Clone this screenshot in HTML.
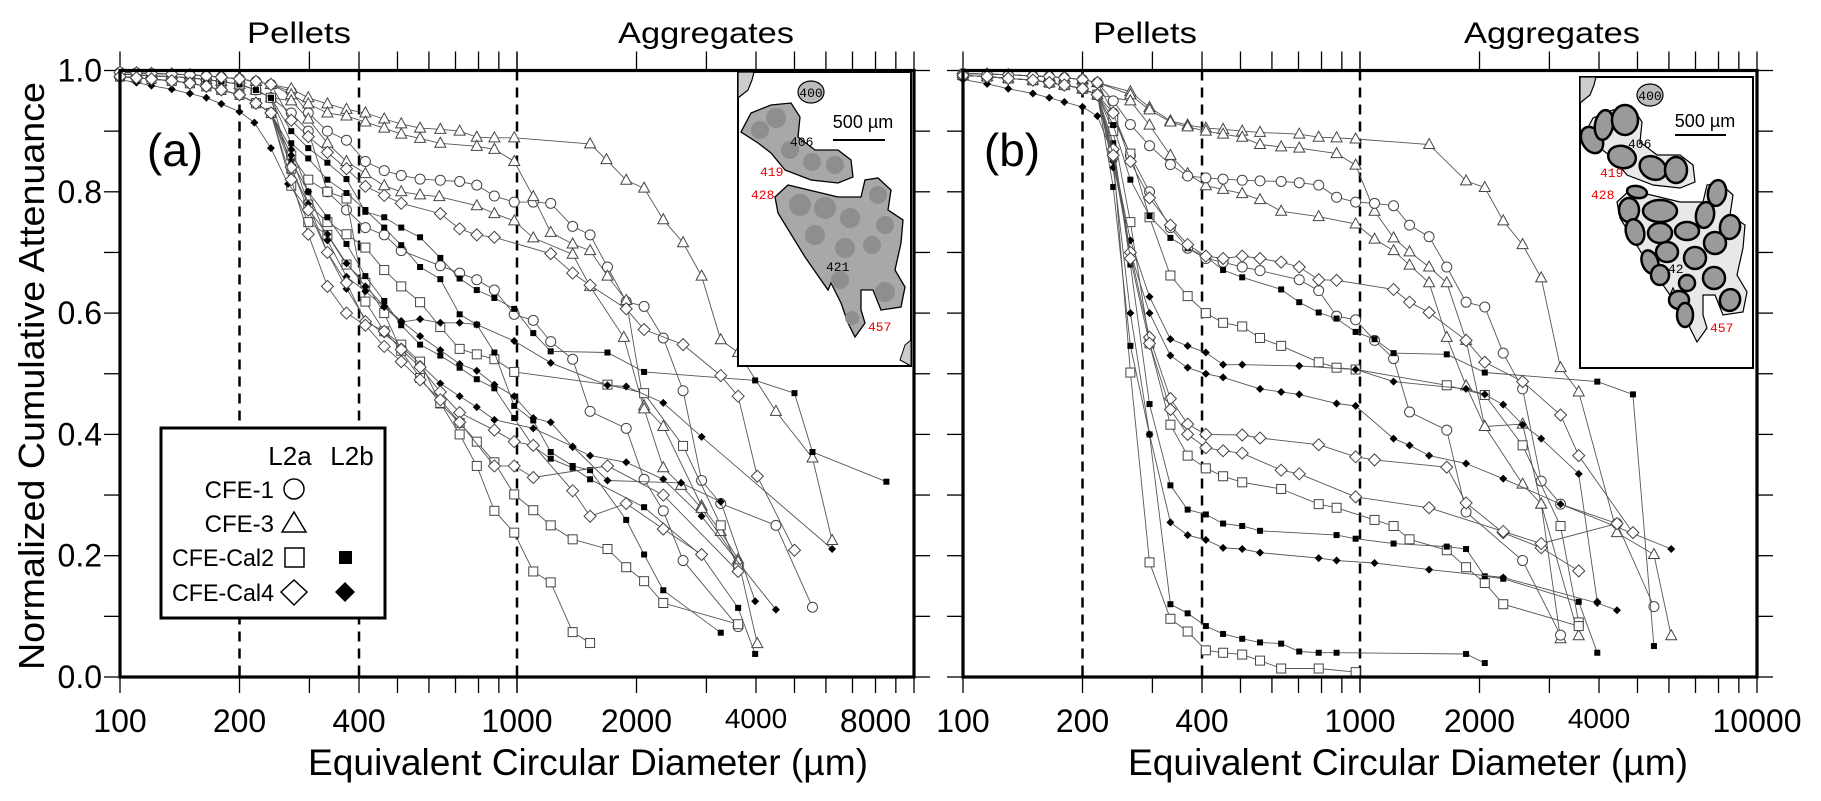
<!DOCTYPE html>
<html><head><meta charset="utf-8"><style>
html,body{margin:0;padding:0;background:#fff;}
svg{display:block;font-family:"Liberation Sans",sans-serif;}
</style></head><body>
<svg id="chart" width="1821" height="801" viewBox="0 0 1821 801" xmlns="http://www.w3.org/2000/svg">
<rect x="0" y="0" width="1821" height="801" fill="#fff"/>
<g id="gridA"></g>
<g id="gridB"></g>

<text x="0" y="0" transform="translate(44,376) rotate(-90)" text-anchor="middle" font-size="36" textLength="588" lengthAdjust="spacingAndGlyphs">Normalized Cumulative Attenuance</text>
<text x="588" y="775" text-anchor="middle" font-size="37" textLength="560" lengthAdjust="spacingAndGlyphs">Equivalent Circular Diameter (µm)</text>
<text x="1408" y="775" text-anchor="middle" font-size="37" textLength="560" lengthAdjust="spacingAndGlyphs">Equivalent Circular Diameter (µm)</text>
<text x="299" y="43" text-anchor="middle" font-size="30" textLength="104" lengthAdjust="spacingAndGlyphs">Pellets</text>
<text x="706" y="43" text-anchor="middle" font-size="30" textLength="176" lengthAdjust="spacingAndGlyphs">Aggregates</text>
<text x="1145" y="43" text-anchor="middle" font-size="30" textLength="104" lengthAdjust="spacingAndGlyphs">Pellets</text>
<text x="1552" y="43" text-anchor="middle" font-size="30" textLength="176" lengthAdjust="spacingAndGlyphs">Aggregates</text>
<text x="175" y="166" text-anchor="middle" font-size="46">(a)</text>
<text x="1012" y="166" text-anchor="middle" font-size="46">(b)</text>

<!-- inset a -->
<g>
<rect x="738" y="72" width="173" height="294" fill="#fff" stroke="#000" stroke-width="2"/>
<path d="M738,98 L748,90 L752,80 L754,72 L738,72Z" fill="#ccc" stroke="#000" stroke-width="1.2"/>
<ellipse cx="811" cy="92" rx="13" ry="11" fill="#bbb" stroke="#000" stroke-width="1.2"/>
<polygon points="741,132 751,113 771,105 791,103 800,117 798,137 815,150 838,150 851,160 853,177 838,183 811,180 785,170 771,153 758,143" fill="#a8a8a8" stroke="#000" stroke-width="1.3"/>
<polygon points="775,197 788,185 838,197 861,197 865,180 878,178 891,190 888,210 903,220 901,243 895,270 905,287 901,307 881,310 873,290 861,290 861,310 865,323 855,337 848,323 841,303 831,283 828,290 805,257 778,213" fill="#a8a8a8" stroke="#000" stroke-width="1.3"/>
<g fill="#8e8e8e"><circle cx="776" cy="118" r="10"/><circle cx="760" cy="130" r="9"/><circle cx="790" cy="150" r="9"/><circle cx="812" cy="162" r="9"/><circle cx="835" cy="165" r="9"/><circle cx="800" cy="205" r="11"/><circle cx="825" cy="208" r="11"/><circle cx="850" cy="218" r="10"/><circle cx="878" cy="195" r="9"/><circle cx="885" cy="225" r="9"/><circle cx="815" cy="235" r="10"/><circle cx="845" cy="248" r="10"/><circle cx="872" cy="245" r="9"/><circle cx="840" cy="280" r="9"/><circle cx="885" cy="292" r="10"/><circle cx="852" cy="318" r="7"/></g>
<path d="M900,360 L905,345 L911,340 L911,366 Z" fill="#ccc" stroke="#000"/>
<text x="811" y="97" text-anchor="middle" font-size="13" font-family="Liberation Mono">400</text>
<text x="863" y="128" text-anchor="middle" font-size="18">500 µm</text>
<line x1="833" y1="140" x2="885" y2="140" stroke="#000" stroke-width="2"/>
<text x="790" y="146" font-size="13" font-family="Liberation Mono">406</text>
<text x="760" y="176" font-size="13" font-family="Liberation Mono" fill="#e00">419</text>
<text x="751" y="199" font-size="13" font-family="Liberation Mono" fill="#e00">428</text>
<text x="826" y="271" font-size="13" font-family="Liberation Mono">421</text>
<text x="868" y="331" font-size="13" font-family="Liberation Mono" fill="#e00">457</text>
</g>

<!-- inset b -->
<g>
<rect x="1580" y="77" width="173" height="291" fill="#fff" stroke="#000" stroke-width="2"/>
<path d="M1580,103 L1590,95 L1594,85 L1596,77 L1580,77Z" fill="#ccc" stroke="#000" stroke-width="1.2"/>
<ellipse cx="1650" cy="95" rx="13" ry="11" fill="#bbb" stroke="#000" stroke-width="1.2"/>
<polygon points="1583,137 1593,118 1613,110 1633,108 1642,122 1640,142 1657,155 1680,155 1693,165 1695,182 1680,188 1653,185 1627,175 1613,158 1600,148" fill="#e8e8e8" stroke="#000" stroke-width="1.2"/>
<polygon points="1617,202 1630,190 1680,202 1703,202 1707,185 1720,183 1733,195 1730,215 1745,225 1743,248 1737,275 1747,292 1743,312 1723,315 1715,295 1703,295 1703,315 1707,328 1697,342 1690,328 1683,308 1673,288 1670,295 1647,262 1620,218" fill="#e8e8e8" stroke="#000" stroke-width="1.2"/>
<g id="ellB" fill="#9a9a9a" stroke="#000" stroke-width="2.5"></g>
<text x="1650" y="100" text-anchor="middle" font-size="13" font-family="Liberation Mono">400</text>
<text x="1705" y="127" text-anchor="middle" font-size="18">500 µm</text>
<line x1="1675" y1="135" x2="1726" y2="135" stroke="#000" stroke-width="2"/>
<text x="1628" y="148" font-size="13" font-family="Liberation Mono">406</text>
<text x="1600" y="177" font-size="13" font-family="Liberation Mono" fill="#e00">419</text>
<text x="1591" y="199" font-size="13" font-family="Liberation Mono" fill="#e00">428</text>
<text x="1668" y="273" font-size="13" font-family="Liberation Mono">42</text>
<text x="1710" y="332" font-size="13" font-family="Liberation Mono" fill="#e00">457</text>
</g>

<!-- legend -->
<g>
<rect x="161" y="428" width="224" height="190" fill="#fff" stroke="#000" stroke-width="3"/>
<text x="290" y="465" text-anchor="middle" font-size="26">L2a</text>
<text x="352" y="465" text-anchor="middle" font-size="26">L2b</text>
<text x="274" y="498" text-anchor="end" font-size="24">CFE-1</text>
<text x="274" y="532" text-anchor="end" font-size="24">CFE-3</text>
<text x="274" y="566" text-anchor="end" font-size="24" textLength="102" lengthAdjust="spacingAndGlyphs">CFE-Cal2</text>
<text x="274" y="601" text-anchor="end" font-size="24" textLength="102" lengthAdjust="spacingAndGlyphs">CFE-Cal4</text>
<circle cx="294" cy="489" r="10" fill="none" stroke="#000" stroke-width="1.5"/>
<polygon points="294,512 306,532 282,532" fill="none" stroke="#000" stroke-width="1.5"/>
<rect x="285" y="548" width="19" height="19" fill="none" stroke="#000" stroke-width="1.5"/>
<polygon points="294,580 307,592 294,605 281,592" fill="none" stroke="#000" stroke-width="1.5"/>
<rect x="339" y="551" width="13" height="13" fill="#000"/>
<polygon points="345,582 355,592 345,602 335,592" fill="#000"/>
</g>

<script>
// ---------- shared early-part data (diameter µm, normalized attenuance) ----------
const earlyHi = [[100,0.997],[110,0.996],[120,0.995],[135,0.994],[150,0.993],[165,0.991],[180,0.989],[200,0.986],[220,0.982],[240,0.977]];
const earlyMid = [[100,0.994],[110,0.993],[120,0.991],[135,0.99],[150,0.988],[165,0.985],[180,0.982],[200,0.977],[220,0.968],[240,0.955]];
const earlyLo = [[100,0.99],[110,0.988],[120,0.986],[135,0.983],[150,0.979],[165,0.974],[180,0.968],[200,0.96],[220,0.946],[240,0.93]];
const earlyDia = [[100,0.985],[110,0.98],[120,0.975],[135,0.969],[150,0.962],[165,0.955],[180,0.945],[200,0.932],[218,0.914]];

// ---------- panel (a) series ----------
const aC1 = [[270,0.965],[298,0.93],[333,0.9],[372,0.885],[415,0.85],[463,0.835],[511,0.827],[570,0.821],[641,0.819],[717,0.817],[792,0.811],[877,0.793],[984,0.783],[1099,0.783],[1216,0.781],[1381,0.743],[1528,0.729],[1690,0.676],[1884,0.619],[2090,0.611],[2336,0.559],[2620,0.472],[2917,0.324],[3260,0.286],[4490,0.25],[5550,0.115]];
const aC2 = [[270,0.93],[298,0.9],[333,0.8],[372,0.77],[415,0.741],[463,0.729],[511,0.703],[641,0.678],[717,0.666],[792,0.655],[877,0.638],[984,0.598],[1099,0.588],[1216,0.553],[1381,0.524],[1528,0.438],[1884,0.41],[2090,0.326],[2336,0.274],[2620,0.192],[3606,0.083]];
const aT1 = [[270,0.97],[298,0.955],[333,0.945],[372,0.936],[415,0.93],[463,0.92],[511,0.912],[570,0.905],[641,0.903],[717,0.9],[792,0.89],[877,0.889],[984,0.889],[1528,0.879],[1680,0.853],[1884,0.819],[2090,0.806],[2336,0.754],[2620,0.716],[2917,0.661],[3260,0.556],[3606,0.535],[4490,0.438],[5550,0.361],[6220,0.225]];
const aT2 = [[270,0.96],[298,0.945],[333,0.93],[372,0.925],[415,0.915],[463,0.905],[511,0.895],[570,0.888],[641,0.88],[792,0.875],[877,0.87],[984,0.85],[1099,0.792],[1216,0.733],[1381,0.714],[1528,0.703],[1690,0.661],[1884,0.621],[2090,0.447],[2336,0.413],[2917,0.282],[3260,0.24],[3606,0.194],[4030,0.055]];
const aT3 = [[270,0.95],[298,0.92],[333,0.88],[372,0.85],[415,0.83],[463,0.81],[511,0.8],[570,0.795],[637,0.792],[792,0.777],[877,0.764],[984,0.752],[1099,0.724],[1381,0.697],[1528,0.644],[1858,0.56],[2090,0.442],[2336,0.345],[2590,0.316],[2917,0.278],[3606,0.19]];
const aS1 = [[270,0.838],[298,0.779],[333,0.75],[372,0.73],[415,0.708],[463,0.671],[511,0.644],[570,0.618],[641,0.577],[717,0.541],[792,0.532],[877,0.524],[984,0.503],[1690,0.482],[2090,0.468],[2620,0.381],[3260,0.25],[3606,0.179]];
const aS2 = [[270,0.86],[298,0.82],[333,0.8],[372,0.789],[415,0.619],[463,0.57],[511,0.548],[570,0.52],[641,0.451],[717,0.419],[792,0.388],[877,0.354],[984,0.301],[1099,0.275],[1216,0.25],[1381,0.227],[1690,0.211],[1884,0.181],[2090,0.158],[2336,0.122],[3606,0.087]];
const aS3 = [[270,0.81],[298,0.75],[333,0.729],[372,0.68],[415,0.65],[463,0.6],[511,0.538],[570,0.493],[641,0.452],[717,0.4],[792,0.348],[877,0.274],[984,0.238],[1099,0.174],[1216,0.156],[1381,0.074],[1528,0.056]];
const aF1 = [[270,0.9],[298,0.872],[333,0.848],[372,0.821],[415,0.767],[463,0.758],[511,0.741],[570,0.725],[641,0.691],[717,0.657],[792,0.638],[877,0.625],[984,0.607],[1099,0.567],[1216,0.537],[1690,0.535],[2090,0.503],[3980,0.489],[5000,0.468],[5550,0.371],[8520,0.322]];
const aF2 = [[270,0.88],[298,0.855],[333,0.82],[372,0.798],[415,0.77],[463,0.741],[511,0.712],[570,0.676],[641,0.656],[717,0.598],[792,0.581],[877,0.535],[984,0.447],[1099,0.423],[1216,0.371],[1381,0.348],[1528,0.341],[1884,0.259],[2090,0.202],[2336,0.143],[3260,0.073]];
const aF3 = [[270,0.85],[298,0.8],[333,0.758],[372,0.714],[415,0.661],[463,0.62],[511,0.58],[570,0.548],[641,0.53],[717,0.51],[792,0.491],[877,0.476],[984,0.427],[1099,0.38],[1216,0.36],[1381,0.345],[1528,0.326],[2090,0.28],[2917,0.2],[3606,0.114],[3980,0.038]];
const aD1 = [[240,0.872],[265,0.813],[298,0.771],[333,0.73],[372,0.682],[415,0.644],[463,0.611],[511,0.587],[570,0.562],[641,0.539],[717,0.516],[792,0.505],[877,0.482],[984,0.463],[1099,0.427],[1216,0.42],[1381,0.379],[1528,0.365],[1884,0.354],[2336,0.326],[2917,0.265],[4490,0.111]];
const aD2 = [[270,0.87],[298,0.8],[333,0.72],[372,0.66],[415,0.636],[463,0.61],[511,0.585],[570,0.59],[641,0.584],[717,0.584],[792,0.581],[984,0.554],[1216,0.518],[1690,0.481],[1884,0.479],[2336,0.452],[2917,0.396],[6220,0.211]];
const aD3 = [[270,0.86],[298,0.78],[333,0.7],[372,0.64],[415,0.59],[463,0.565],[511,0.545],[570,0.516],[641,0.484],[717,0.463],[792,0.445],[877,0.424],[1099,0.41],[1381,0.38],[1690,0.324],[2590,0.32],[3260,0.289],[3980,0.125]];
const aO1 = [[270,0.918],[298,0.891],[333,0.865],[372,0.838],[415,0.809],[463,0.794],[511,0.781],[641,0.764],[717,0.739],[792,0.729],[877,0.725],[1216,0.698],[1381,0.666],[1528,0.646],[1884,0.607],[2090,0.573],[2620,0.548],[3260,0.497],[3606,0.463],[4030,0.331],[5000,0.209]];
const aO2 = [[270,0.84],[298,0.77],[333,0.7],[372,0.65],[415,0.586],[463,0.57],[511,0.54],[570,0.511],[641,0.47],[717,0.436],[877,0.407],[984,0.388],[1099,0.382],[1381,0.307],[1528,0.265],[1884,0.286],[2336,0.244],[2917,0.202]];
const aO3 = [[270,0.82],[298,0.73],[333,0.644],[372,0.6],[415,0.58],[463,0.545],[511,0.52],[570,0.49],[641,0.457],[717,0.42],[877,0.348],[984,0.348],[1099,0.329],[1690,0.348],[2336,0.3],[3606,0.174]];

// ---------- panel (b) series ----------
const bT1 = [[264,0.965],[295,0.939],[333,0.917],[368,0.91],[409,0.905],[452,0.903],[505,0.9],[560,0.898],[703,0.895],[787,0.89],[873,0.889],[975,0.887],[1493,0.878],[1850,0.818],[2062,0.807],[2295,0.752],[2568,0.713],[2860,0.658],[3200,0.51],[3556,0.47],[4440,0.238],[5500,0.202],[6080,0.068]];
const bT2 = [[264,0.96],[295,0.935],[333,0.915],[368,0.907],[409,0.9],[452,0.895],[505,0.89],[560,0.878],[633,0.874],[703,0.872],[873,0.863],[975,0.844],[1088,0.768],[1215,0.724],[1333,0.701],[1493,0.676],[1654,0.65],[1850,0.555],[2062,0.413],[2568,0.417],[2860,0.285],[3200,0.063]];
const bT3 = [[264,0.95],[295,0.91],[333,0.86],[368,0.83],[409,0.81],[452,0.804],[505,0.797],[560,0.787],[633,0.768],[787,0.759],[975,0.747],[1088,0.722],[1215,0.703],[1333,0.679],[1493,0.65],[1654,0.56],[1850,0.48],[2062,0.413],[2568,0.318],[2860,0.285],[3556,0.068]];
const bC1 = [[239,0.95],[264,0.911],[295,0.876],[333,0.845],[368,0.826],[409,0.823],[452,0.821],[505,0.819],[560,0.818],[633,0.817],[703,0.815],[787,0.811],[873,0.791],[975,0.783],[1088,0.781],[1215,0.777],[1333,0.745],[1493,0.726],[1654,0.676],[1850,0.618],[2062,0.61],[2295,0.534],[2568,0.475],[2860,0.323],[3200,0.285],[4440,0.253],[5500,0.116]];
const bC2 = [[239,0.93],[264,0.86],[295,0.8],[333,0.741],[368,0.707],[409,0.69],[452,0.684],[505,0.676],[560,0.67],[703,0.655],[787,0.637],[873,0.595],[975,0.589],[1088,0.555],[1215,0.525],[1333,0.437],[1654,0.407],[1850,0.272],[2568,0.192],[3200,0.069]];
const bS1 = [[239,0.92],[264,0.863],[295,0.758],[333,0.662],[368,0.628],[409,0.6],[452,0.584],[505,0.578],[560,0.559],[633,0.546],[787,0.519],[873,0.51],[975,0.507],[1654,0.481],[2062,0.465],[2568,0.382],[3200,0.249],[3556,0.09]];
const bS2 = [[239,0.9],[264,0.75],[295,0.55],[333,0.416],[368,0.365],[409,0.344],[452,0.331],[505,0.321],[633,0.31],[787,0.285],[873,0.279],[1088,0.259],[1215,0.249],[1333,0.227],[1654,0.209],[1850,0.181],[2062,0.155],[2295,0.12],[3556,0.084]];
const bS3 = [[239,0.86],[264,0.502],[295,0.189],[333,0.096],[368,0.075],[409,0.044],[452,0.04],[505,0.037],[560,0.027],[633,0.014],[787,0.014],[975,0.008]];
const bF1 = [[239,0.91],[264,0.82],[295,0.76],[333,0.724],[368,0.707],[409,0.693],[452,0.671],[505,0.659],[633,0.639],[703,0.618],[787,0.601],[873,0.591],[975,0.569],[1088,0.557],[1215,0.534],[1654,0.532],[2062,0.502],[3960,0.487],[4870,0.466],[5500,0.051]];
const bF2 = [[239,0.88],[264,0.68],[295,0.45],[333,0.316],[368,0.276],[409,0.268],[452,0.253],[505,0.249],[560,0.241],[873,0.234],[975,0.228],[1215,0.22],[1654,0.215],[1850,0.211],[2062,0.166],[2295,0.162],[3556,0.124],[3960,0.04]];
const bF3 = [[239,0.808],[264,0.546],[295,0.4],[333,0.12],[368,0.105],[409,0.084],[452,0.071],[505,0.063],[560,0.057],[633,0.055],[703,0.042],[787,0.04],[873,0.04],[1850,0.038],[2062,0.023]];
const bD1 = [[239,0.86],[264,0.72],[295,0.627],[333,0.557],[368,0.546],[409,0.535],[452,0.515],[505,0.515],[703,0.513],[975,0.507],[1215,0.487],[1850,0.475],[2062,0.466],[2295,0.449],[2568,0.416],[2860,0.393],[3556,0.335],[3960,0.124]];
const bD2 = [[239,0.85],[264,0.7],[295,0.6],[333,0.53],[368,0.51],[409,0.5],[452,0.494],[560,0.475],[633,0.47],[703,0.466],[873,0.451],[975,0.447],[1215,0.393],[1333,0.382],[1493,0.365],[1850,0.352],[2295,0.327],[3200,0.285],[6080,0.211]];
const bD3 = [[239,0.84],[264,0.6],[295,0.4],[333,0.255],[368,0.234],[409,0.226],[452,0.213],[505,0.211],[560,0.205],[787,0.196],[873,0.192],[1088,0.188],[1493,0.177],[2295,0.164],[3960,0.122],[4440,0.11]];
const bO1 = [[239,0.93],[264,0.85],[295,0.79],[333,0.745],[368,0.713],[409,0.694],[452,0.69],[505,0.694],[560,0.69],[633,0.684],[703,0.676],[787,0.655],[873,0.654],[1215,0.639],[1333,0.618],[1493,0.601],[1850,0.555],[2062,0.519],[2568,0.487],[3200,0.432],[3556,0.365],[4870,0.238]];
const bO2 = [[239,0.87],[264,0.7],[295,0.56],[333,0.459],[368,0.417],[409,0.4],[505,0.399],[560,0.394],[787,0.383],[975,0.363],[1088,0.358],[1654,0.346],[1850,0.287],[2295,0.238],[2860,0.213],[3556,0.175]];
const bO3 = [[239,0.86],[264,0.69],[295,0.55],[333,0.441],[368,0.4],[409,0.378],[452,0.373],[505,0.369],[633,0.341],[703,0.335],[975,0.297],[1493,0.279],[2295,0.24],[2860,0.22],[4440,0.253]];

const seriesA = [
  ['a-cfe1-l2a-1','circle',earlyHi,aC1],['a-cfe1-l2a-2','circle',earlyMid,aC2],
  ['a-cfe3-l2a-1','triangle',earlyHi,aT1],['a-cfe3-l2a-2','triangle',earlyHi,aT2],['a-cfe3-l2a-3','triangle',earlyMid,aT3],
  ['a-cal2-l2a-1','square',earlyMid,aS1],['a-cal2-l2a-2','square',earlyLo,aS2],['a-cal2-l2a-3','square',earlyLo,aS3],
  ['a-cal2-l2b-1','fsquare',earlyMid,aF1],['a-cal2-l2b-2','fsquare',earlyMid,aF2],['a-cal2-l2b-3','fsquare',earlyLo,aF3],
  ['a-cal4-l2b-1','fdiamond',earlyDia,aD1],['a-cal4-l2b-2','fdiamond',earlyLo,aD2],['a-cal4-l2b-3','fdiamond',earlyLo,aD3],
  ['a-cal4-l2a-1','diamond',earlyHi,aO1],['a-cal4-l2a-2','diamond',earlyLo,aO2],['a-cal4-l2a-3','diamond',earlyLo,aO3]
];
const earlyBHi = [[100,0.995],[115,0.994],[130,0.993],[150,0.991],[165,0.99],[180,0.988],[200,0.985],[218,0.98]];
const earlyBLo = [[100,0.985],[115,0.978],[130,0.97],[150,0.962],[165,0.955],[180,0.948],[200,0.94],[218,0.925]];
const earlyBMid = [[100,0.992],[115,0.99],[130,0.987],[150,0.984],[165,0.98],[180,0.976],[200,0.97],[218,0.96]];
const seriesB = [
  ['b-cfe3-l2a-1','triangle',earlyBHi,bT1],['b-cfe3-l2a-2','triangle',earlyBHi,bT2],['b-cfe3-l2a-3','triangle',earlyBMid,bT3],
  ['b-cfe1-l2a-1','circle',earlyBHi,bC1],['b-cfe1-l2a-2','circle',earlyBMid,bC2],
  ['b-cal2-l2a-1','square',earlyBMid,bS1],['b-cal2-l2a-2','square',earlyBMid,bS2],['b-cal2-l2a-3','square',earlyBMid,bS3],
  ['b-cal2-l2b-1','fsquare',earlyBMid,bF1],['b-cal2-l2b-2','fsquare',earlyBMid,bF2],['b-cal2-l2b-3','fsquare',earlyBMid,bF3],
  ['b-cal4-l2b-1','fdiamond',earlyBLo,bD1],['b-cal4-l2b-2','fdiamond',earlyBMid,bD2],['b-cal4-l2b-3','fdiamond',earlyBMid,bD3],
  ['b-cal4-l2a-1','diamond',earlyBHi,bO1],['b-cal4-l2a-2','diamond',earlyBMid,bO2],['b-cal4-l2a-3','diamond',earlyBMid,bO3]
];

const yTicks = [0,0.1,0.2,0.3,0.4,0.5,0.6,0.7,0.8,0.9,1.0];
const yTickLabels = ['0.0','0.2','0.4','0.6','0.8','1.0'];
const xLabelsA = [100,200,400,1000,2000,4000,8000];
const xLabelsB = [100,200,400,1000,2000,4000,10000];
const dashedLines = [200,400,1000];

const NS='http://www.w3.org/2000/svg';
const Y0=677, YH=606.5;
const panelA={x0:120,d:397,g:document.getElementById('gridA')};
const panelB={x0:963,d:397,g:document.getElementById('gridB')};
function xs(p,v){return p.x0+Math.log10(v/100)*p.d;}
function ys(v){return Y0-v*YH;}
function mk(tag,attrs,parent){const e=document.createElementNS(NS,tag);for(const k in attrs)e.setAttribute(k,attrs[k]);parent.appendChild(e);return e;}

function drawMarker(g,type,x,y){
  let e;
  if(type==='circle'){e=mk('circle',{cx:x,cy:y,r:5,fill:'#fff',stroke:'#444','stroke-width':1},g);}
  else if(type==='triangle'){e=mk('polygon',{points:`${x},${y-6} ${x+5.5},${y+4} ${x-5.5},${y+4}`,fill:'#fff',stroke:'#444','stroke-width':1},g);}
  else if(type==='square'){e=mk('rect',{x:x-4.5,y:y-4.5,width:9,height:9,fill:'#fff',stroke:'#444','stroke-width':1},g);}
  else if(type==='diamond'){e=mk('polygon',{points:`${x},${y-6} ${x+6},${y} ${x},${y+6} ${x-6},${y}`,fill:'#fff',stroke:'#444','stroke-width':1},g);}
  else if(type==='fsquare'){e=mk('rect',{x:x-3,y:y-3,width:6,height:6,fill:'#000'},g);}
  else {e=mk('polygon',{points:`${x},${y-4} ${x+4},${y} ${x},${y+4} ${x-4},${y}`,fill:'#000'},g);}
  
  
}

function drawPanel(p,series,labels,side){
  const g=p.g, L=p.x0, R=p.x0+2*p.d;
  // minor/major x ticks top & bottom
  for(let dec=100;dec<10000;dec*=10){
    for(let k=1;k<=10;k++){
      const v=dec*k; if(v>10000) continue;
      const x=xs(p,v);
      mk('line',{x1:x,y1:Y0,x2:x,y2:Y0+16,stroke:'#000','stroke-width':1.3},g);
      mk('line',{x1:x,y1:ys(1),x2:x,y2:ys(1)-19,stroke:'#000','stroke-width':1.3},g);
    }
  }
  yTicks.forEach(t=>{
    const y=ys(t);
    mk('line',{x1:L-16,y1:y,x2:L,y2:y,stroke:'#000','stroke-width':1.3},g);
    mk('line',{x1:R,y1:y,x2:R+16,y2:y,stroke:'#000','stroke-width':1.3},g);
  });
  dashedLines.forEach(v=>{
    const l=mk('line',{x1:xs(p,v),y1:ys(1),x2:xs(p,v),y2:Y0,stroke:'#000','stroke-width':2.5,'stroke-dasharray':'10,7'},g);
    
    
  });
  series.forEach(s=>{
    const pts=s[2].concat(s[3]);
    const sg=mk('g',{},g);
    
    
    const line=mk('polyline',{points:pts.map(q=>xs(p,q[0]).toFixed(1)+','+ys(q[1]).toFixed(1)).join(' '),fill:'none',stroke:'#555','stroke-width':0.9},sg);
    
    
    pts.forEach(q=>drawMarker(sg,s[1],xs(p,q[0]),ys(q[1])));
  });
  const fr=mk('rect',{x:L,y:ys(1),width:R-L,height:Y0-ys(1),fill:'none',stroke:'#000','stroke-width':3.2},g);
  
  
  labels.forEach(v=>{
    const t=mk('text',{x:xs(p,v),y:v===4000?728:732,'text-anchor':'middle','font-size':v===4000?28:32},g);
    t.textContent=String(v);
    
    
  });
  if(side){
    yTickLabels.forEach(s=>{
      const t=mk('text',{x:L-18,y:ys(parseFloat(s))+11,'text-anchor':'end','font-size':32},g);
      t.textContent=s;
      
      
    });
  }
}
drawPanel(panelA,seriesA,xLabelsA,true);
drawPanel(panelB,seriesB,xLabelsB,false);

// inset (b) ellipses
const ellB=[[1592,140,10,14,-30],[1604,125,9,15,10],[1625,120,13,15,0],[1622,157,14,11,15],[1653,168,14,11,30],[1676,170,11,13,0],[1637,192,10,6,10],[1629,210,10,12,0],[1660,211,17,11,0],[1717,193,9,13,10],[1705,215,9,13,10],[1730,227,10,12,10],[1635,232,9,13,-15],[1660,233,12,10,0],[1687,231,12,9,0],[1715,243,11,11,0],[1667,252,11,10,0],[1695,258,11,11,0],[1650,262,8,12,-20],[1660,275,9,10,0],[1714,278,11,11,0],[1687,283,8,8,0],[1730,300,10,11,20],[1679,300,10,9,0],[1685,315,8,12,0]];
const eg=document.getElementById('ellB');
ellB.forEach(e=>{mk('ellipse',{cx:e[0],cy:e[1],rx:e[2],ry:e[3],transform:`rotate(${e[4]} ${e[0]} ${e[1]})`},eg);});
</script>
</svg>
</body></html>
